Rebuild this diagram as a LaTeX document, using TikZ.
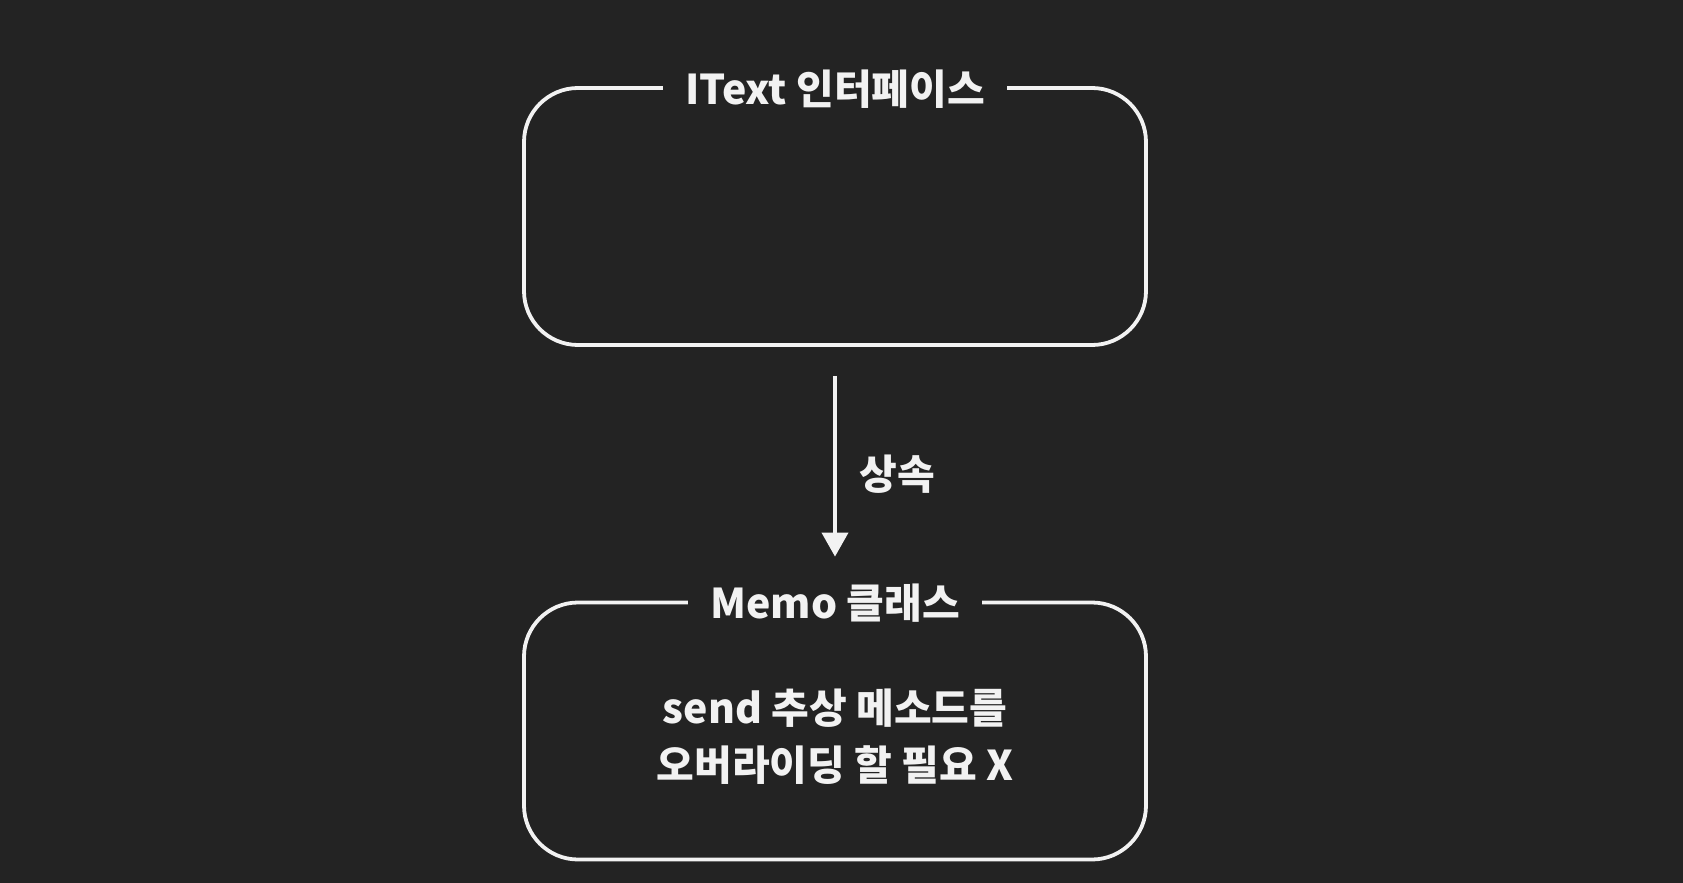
\documentclass[tikz,border=0pt]{standalone}
\usepackage{fontspec}
\setmainfont{Noto Sans CJK KR}
\usetikzlibrary{arrows.meta}
\definecolor{bg}{HTML}{232323}
\definecolor{fg}{HTML}{F2F2F2}
\tikzset{
    box/.style={draw=fg, line width=1.9pt, rounded corners=27pt, minimum width=311pt, minimum height=128.5pt},
    boxtitle/.style={fill=bg, text=fg, inner xsep=11pt, inner ysep=2pt, yshift=-1.5pt, font=\fontsize{20.5}{25}\selectfont\bfseries},
    boxtext/.style={text=fg, align=center, font=\fontsize{20.5}{28.5}\selectfont\bfseries},
}
\begin{document}
\begin{tikzpicture}[x=0.5pt,y=-0.5pt]
    \fill[bg] (0,0) rectangle (1683,883);
    \node[box] (itext) at (835,216.5) {};
    \node[boxtitle] (itexttitle) at (itext.north) {IText 인터페이스};
    \node[box] (memo) at (835,731) {};
    \node[boxtitle] (memotitle) at (memo.north) {Memo 클래스};
    \node[boxtext, yshift=-2.7pt] (memotext) at (memo) {send 추상 메소드를\\오버라이딩 할 필요 X};
    \draw[fg, line width=1.9pt, -{Triangle[length=12pt,width=13pt]}, shorten <=14.5pt, shorten >=22pt] (itext.south) -- (memo.north)
        node[midway, right=8pt, boxtext] (inherit) {상속};
\end{tikzpicture}
\end{document}
